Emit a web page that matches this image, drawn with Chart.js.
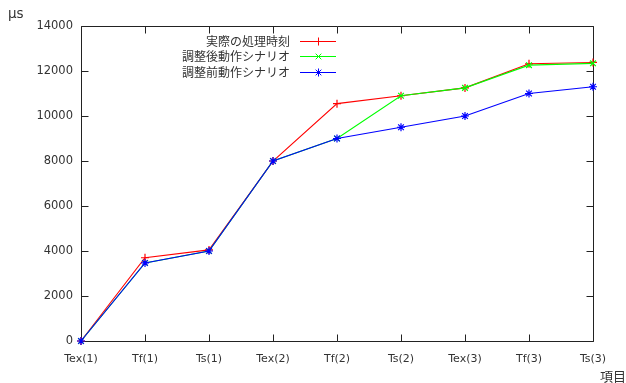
<!DOCTYPE html>
<html>
<head>
<meta charset="utf-8">
<script src="https://cdn.jsdelivr.net/npm/chart.js@4/dist/chart.umd.min.js"></script>
<style>
  html, body { margin: 0; padding: 0; background: #fff; }
  #wrap { width: 626px; height: 383px; }
</style>
</head>
<body>
<div id="wrap"><canvas id="c" width="626" height="383"></canvas></div>
<script>
// Categories along the x axis
const categories = ['Tex(1)', 'Tf(1)', 'Ts(1)', 'Tex(2)', 'Tf(2)', 'Ts(2)', 'Tex(3)', 'Tf(3)', 'Ts(3)'];
// Series labels
const seriesNames = ['実際の処理時刻', '調整後動作シナリオ', '調整前動作シナリオ'];
// Time values (μs)
const actualTimes = [0, 3700, 4050, 8000, 10550, 10900, 11250, 12320, 12380];
const adjustedTimes = [0, 3470, 4000, 8000, 9000, 10900, 11250, 12260, 12340];
const originalTimes = [0, 3470, 4000, 8000, 9000, 9500, 10000, 11000, 11300];
// Y axis range and tick step
const yMin = 0, yMax = 14000, yStep = 2000;
const yAxisTitle = 'μs';
const xAxisTitle = '項目';

const TICK_FONT = 'DejaVu Sans, sans-serif';
const CJK_FONT = '"Noto Sans CJK JP", "Noto Sans", sans-serif';
const TEXT_COLOR = '#333';

// Frame, inward ticks (mirrored on top/right), axis titles and key
const framePlugin = {
  id: 'frame',
  beforeDatasetsDraw(chart) {
    const { ctx, chartArea: a, scales } = chart;
    const L = Math.round(a.left) + 0.5, R = Math.round(a.right) + 0.5;
    const T = Math.round(a.top) + 0.5, B = Math.round(a.bottom) + 0.5;
    const tl = 7;
    ctx.save();
    ctx.strokeStyle = '#222';
    ctx.lineWidth = 1;
    ctx.beginPath();
    ctx.rect(L, T, R - L, B - T);
    // y ticks, left and right
    scales.y.ticks.forEach(t => {
      const y = Math.round(scales.y.getPixelForValue(t.value)) + 0.5;
      ctx.moveTo(L, y); ctx.lineTo(L + tl, y);
      ctx.moveTo(R, y); ctx.lineTo(R - tl, y);
    });
    // x ticks, bottom and top
    categories.forEach((c, i) => {
      const x = Math.round(scales.x.getPixelForValue(i)) + 0.5;
      ctx.moveTo(x, B); ctx.lineTo(x, B - tl);
      ctx.moveTo(x, T); ctx.lineTo(x, T + tl);
    });
    ctx.stroke();
    ctx.restore();
  },
  afterDraw(chart) {
    const { ctx } = chart;
    ctx.save();
    ctx.fillStyle = TEXT_COLOR;
    ctx.textBaseline = 'middle';
    ctx.textAlign = 'left';
    ctx.font = '13.5px ' + TICK_FONT;
    ctx.fillText(yAxisTitle, 8, 14);
    ctx.font = '13px ' + CJK_FONT;
    ctx.fillText(xAxisTitle, 600, 376);

    // key: right-aligned text, then a sample line with marker
    const textRight = 290, lineL = 300, lineR = 336, rowY = [41, 56, 72];
    chart.data.datasets.forEach((ds, i) => {
      const y = rowY[i];
      ctx.font = '12px ' + CJK_FONT;
      ctx.textAlign = 'right';
      ctx.fillStyle = TEXT_COLOR;
      ctx.fillText(ds.label, textRight, y);
      ctx.strokeStyle = ds.borderColor;
      ctx.lineWidth = 1;
      ctx.beginPath();
      ctx.moveTo(lineL, y + 0.5); ctx.lineTo(lineR, y + 0.5);
      ctx.stroke();
      ctx.fillStyle = ds.borderColor;
      Chart.helpers.drawPoint(ctx, {
        pointStyle: ds.pointStyle, radius: ds.pointRadius, rotation: 0,
        borderWidth: ds.pointBorderWidth
      }, (lineL + lineR) / 2 + 0.5, y + 0.5);
    });
    ctx.restore();
  }
};

const mkSet = (label, data, color, style, order) => ({
  label, data,
  borderColor: color, backgroundColor: color,
  borderWidth: 1.1, pointStyle: style, pointRadius: 4, pointBorderWidth: 1.2,
  pointHoverRadius: 4, tension: 0, clip: false, order
});

new Chart(document.getElementById('c'), {
  type: 'line',
  data: {
    labels: categories,
    datasets: [
      mkSet(seriesNames[0], actualTimes, '#ff0000', 'cross', 3),
      mkSet(seriesNames[1], adjustedTimes, '#00ff00', 'crossRot', 2),
      mkSet(seriesNames[2], originalTimes, '#0000ff', 'star', 1)
    ]
  },
  options: {
    responsive: false,
    animation: false,
    events: [],
    layout: { padding: { left: 0, right: 33, top: 26, bottom: 0 } },
    plugins: { legend: { display: false }, tooltip: { enabled: false } },
    scales: {
      x: {
        offset: false,
        grid: { display: false, drawTicks: false },
        border: { display: false },
        ticks: { color: TEXT_COLOR, font: { family: TICK_FONT, size: 11 }, padding: 12, maxRotation: 0, autoSkip: false },
        afterFit(s) { s.height = 42; }
      },
      y: {
        min: yMin, max: yMax,
        grid: { display: false, drawTicks: false },
        border: { display: false },
        ticks: {
          stepSize: yStep, color: TEXT_COLOR, font: { family: TICK_FONT, size: 11.5 }, padding: 8,
          callback: v => String(v)
        },
        afterFit(s) { s.width = 81; }
      }
    }
  },
  plugins: [framePlugin]
});
</script>
</body>
</html>
